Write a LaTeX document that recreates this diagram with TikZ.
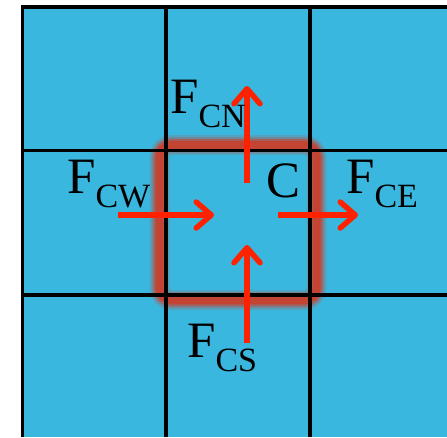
\documentclass[tikz,border=0pt]{standalone}
\usepackage{fontspec}
\setmainfont{Liberation Serif}
\usetikzlibrary{arrows.meta}
\definecolor{cellblue}{RGB}{58,183,222}
\definecolor{glowred}{RGB}{220,50,25}
\definecolor{arrowred}{RGB}{255,34,0}
\tikzset{
  gridline/.style={line width=3.8pt, black},
  force/.style={line width=5.5pt, arrowred, -{Straight Barb[length=15pt,width=26pt,round]}},
  lbl/.style={anchor=base west, inner sep=0pt, font=\fontsize{51}{60}\selectfont},
}
\newcommand{\Fsub}[1]{F\raisebox{-14pt}{\fontsize{34}{34}\selectfont #1}}
\begin{document}
\begin{tikzpicture}[x=1pt,y=-1pt]
\useasboundingbox (0,0) rectangle (447,437);
\fill[white] (0,0) rectangle (447,437);
\fill[cellblue] (22.5,7) rectangle (447,437);
% glow
\foreach \w/\o in {20/0.15,16/0.25,12/0.45,8/0.6}{
  \draw[line width=\w pt, glowred, opacity=\o, rounded corners=12pt] (159.5,145) rectangle (316.5,300);
}
% grid
\coordinate (l0) at (22.5,437);
\coordinate (l1) at (22.5,7);
\coordinate (r1) at (447,7);
\draw[gridline] (l0) -- (l1) -- (r1);
\draw[gridline] (166,7) -- (166,437);
\draw[gridline] (310,7) -- (310,437);
\draw[gridline] (22.5,150.5) -- (447,150.5);
\draw[gridline] (22.5,295) -- (447,295);
% arrows
\coordinate (nS) at (247,183);
\coordinate (nE) at (247,86);
\coordinate (wS) at (118,215);
\coordinate (wE) at (214,215);
\coordinate (eS) at (278,215);
\coordinate (eE) at (358,215);
\coordinate (sS) at (247,343);
\coordinate (sE) at (247,245);
\draw[force] (nS) -- (nE);
\draw[force] (wS) -- (wE);
\draw[force] (eS) -- (eE);
\draw[force] (sS) -- (sE);
% labels
\node[lbl] (fcn) at (170,113) {\Fsub{CN}};
\node[lbl] (fcw) at (67,193) {\Fsub{CW}};
\node[lbl] (c) at (266,197) {C};
\node[lbl] (fce) at (346,193) {\Fsub{CE}};
\node[lbl] (fcs) at (187,357) {\Fsub{CS}};
\end{tikzpicture}
\end{document}
